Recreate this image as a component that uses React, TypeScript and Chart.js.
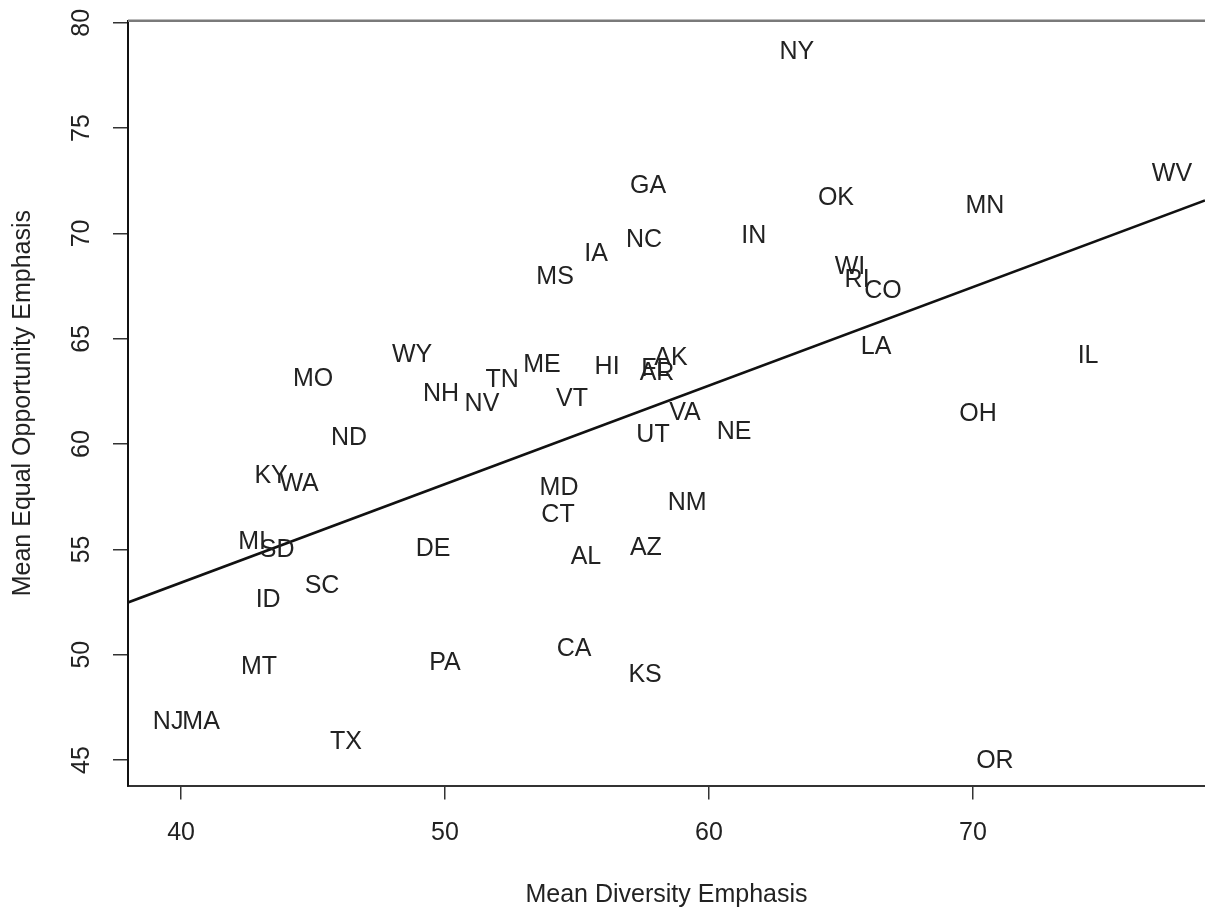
import React, { useEffect, useRef } from "react";
import { Chart, registerables } from "chart.js";
Chart.register(...registerables);

const states = [
  "NY", "GA", "WV", "OK", "MN", "IN", "NC", "IA", "MS", "WI",
  "RI", "CO", "LA", "IL", "AK", "FL", "AR", "HI", "ME", "TN",
  "WY", "NH", "NV", "VT", "MO", "VA", "UT", "NE", "OH", "ND",
  "KY", "WA", "MI", "SD", "SC", "ID", "MD", "CT", "NM", "AL",
  "AZ", "CA", "KS", "DE", "MT", "PA", "NJ", "MA", "TX", "OR",
];
const diversity = [
  63.33, 57.69, 77.54, 64.81, 70.45, 61.7, 57.54, 55.72, 54.17, 65.34,
  65.61, 66.59, 66.33, 74.36, 58.56, 57.99, 58.03, 56.14, 53.67, 52.16,
  48.75, 49.85, 51.4, 54.81, 45.0, 59.09, 57.88, 60.95, 70.19, 46.36,
  43.41, 44.47, 42.69, 43.64, 45.34, 43.3, 54.32, 54.28, 59.17, 55.34,
  57.61, 54.89, 57.58, 49.55, 42.95, 50.0, 39.51, 40.76, 46.25, 70.83,
];
const equalOpportunity = [
  78.69, 72.33, 72.9, 71.76, 71.38, 69.96, 69.77, 69.11, 68.01, 68.49,
  67.87, 67.35, 64.69, 64.26, 64.17, 63.65, 63.46, 63.74, 63.84, 63.13,
  64.31, 62.46, 61.99, 62.22, 63.17, 61.56, 60.51, 60.66, 61.51, 60.37,
  58.57, 58.19, 55.44, 55.06, 53.35, 52.64, 58.0, 56.72, 57.29, 54.72,
  55.15, 50.36, 49.08, 55.1, 49.5, 49.65, 46.85, 46.85, 45.94, 45.0,
];
const xTicks = [40, 50, 60, 70];
const yTicks = [45, 50, 55, 60, 65, 70, 75, 80];
const fitIntercept = 34.71;
const fitSlope = 0.4678;
const xMin = 37.99;
const xMax = 78.79;
const yMin = 43.79;
const yMax = 80.1;
const xTitle = "Mean Diversity Emphasis";
const yTitle = "Mean Equal Opportunity Emphasis";

const FONT = "'Liberation Sans', Arial, Helvetica, sans-serif";
const TEXT = "#222222";
const SIZE = 25;

export default function App() {
  const ref = useRef<HTMLCanvasElement>(null);

  useEffect(() => {
    document.body.style.margin = "0";
    const canvas = ref.current;
    if (!canvas) return;

    const overlay = {
      id: "overlay",
      afterDatasetsDraw(chart: any) {
        const ctx = chart.ctx;
        const meta = chart.getDatasetMeta(0);
        ctx.save();
        ctx.font = `${SIZE}px ${FONT}`;
        ctx.fillStyle = TEXT;
        ctx.textAlign = "center";
        ctx.textBaseline = "middle";
        meta.data.forEach((pt: any, i: number) => {
          ctx.fillText(states[i], pt.x, pt.y + 1.5);
        });
        ctx.restore();
      },
      afterDraw(chart: any) {
        const ctx = chart.ctx;
        const ys = chart.scales.y;
        const area = chart.chartArea;
        ctx.save();
        ctx.font = `${SIZE}px ${FONT}`;
        ctx.fillStyle = TEXT;
        ctx.textAlign = "center";
        ctx.textBaseline = "middle";
        ys.ticks.forEach((t: any) => {
          const py = ys.getPixelForValue(t.value);
          ctx.save();
          ctx.translate(82, py);
          ctx.rotate(-Math.PI / 2);
          ctx.fillText(String(t.value), 0, 0);
          ctx.restore();
        });
        ctx.strokeStyle = "#7a7a7a";
        ctx.lineWidth = 2.5;
        ctx.beginPath();
        ctx.moveTo(area.left, area.top);
        ctx.lineTo(area.right, area.top);
        ctx.stroke();
        ctx.restore();
      },
    };

    const chart = new Chart(canvas, {
      type: "scatter",
      data: {
        datasets: [
          {
            label: "States",
            data: states.map((_, i) => ({ x: diversity[i], y: equalOpportunity[i] })),
            pointRadius: 0,
            pointHoverRadius: 0,
            backgroundColor: "rgba(0,0,0,0)",
            borderColor: "rgba(0,0,0,0)",
          },
          {
            type: "line",
            label: "Fit",
            data: [xMin, xMax].map((x) => ({ x, y: fitIntercept + fitSlope * x })),
            borderColor: "#111111",
            borderWidth: 2.6,
            pointRadius: 0,
            fill: false,
          } as any,
        ],
      },
      options: {
        responsive: false,
        animation: false,
        devicePixelRatio: 1,
        layout: { padding: { top: 20.7, left: 0, right: 0, bottom: 0 } },
        plugins: { legend: { display: false }, tooltip: { enabled: false } },
        events: [],
        scales: {
          x: {
            type: "linear",
            min: xMin,
            max: xMax,
            afterBuildTicks: (s: any) => {
              s.ticks = xTicks.map((v) => ({ value: v }));
            },
            afterFit: (s: any) => {
              s.height = 123.5;
            },
            grid: {
              drawOnChartArea: false,
              drawTicks: true,
              tickLength: 14,
              color: "#333333",
              lineWidth: 1.5,
            },
            border: { display: true, color: "#333333", width: 2 },
            ticks: {
              color: TEXT,
              font: { family: FONT, size: SIZE },
              padding: 19,
              maxRotation: 0,
              autoSkip: false,
            },
            title: {
              display: true,
              text: xTitle,
              color: TEXT,
              font: { family: FONT, size: SIZE },
              padding: { top: 0, bottom: -1.5 },
            },
          },
          y: {
            type: "linear",
            min: yMin,
            max: yMax,
            afterBuildTicks: (s: any) => {
              s.ticks = yTicks.map((v) => ({ value: v }));
            },
            afterFit: (s: any) => {
              s.width = 128;
            },
            grid: {
              drawOnChartArea: false,
              drawTicks: true,
              tickLength: 15,
              color: "#333333",
              lineWidth: 1.5,
            },
            border: { display: true, color: "#111111", width: 2 },
            ticks: { display: false },
            title: {
              display: true,
              text: yTitle,
              color: TEXT,
              font: { family: FONT, size: SIZE },
              padding: { top: 8, bottom: 0 },
            },
          },
        },
      },
      plugins: [overlay],
    });

    return () => chart.destroy();
  }, []);

  return (
    <div style={{ width: 1205, height: 909, background: "#ffffff" }}>
      <canvas ref={ref} width={1205} height={909} style={{ display: "block" }} />
    </div>
  );
}
